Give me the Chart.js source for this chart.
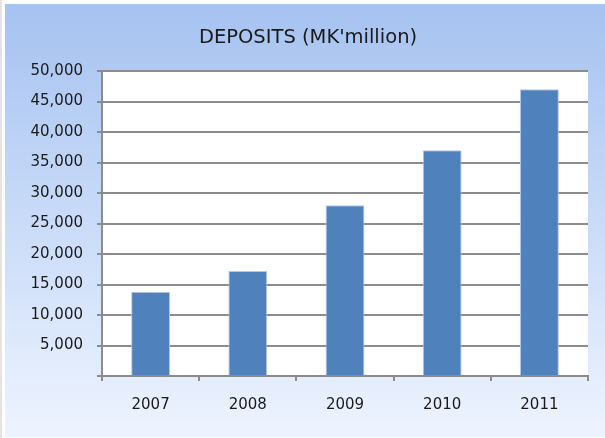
<!DOCTYPE html>
<html>
<head>
<meta charset="utf-8">
<script src="https://cdn.jsdelivr.net/npm/chart.js@4.4.1/dist/chart.umd.min.js"></script>
<style>
    body { margin: 0; background: #fff; }
    #wrap { width: 605px; height: 438px; position: relative; }
</style>
</head>
<body>
<div id="wrap"><canvas id="depositsChart"></canvas></div>
<script>
var years = ["2007", "2008", "2009", "2010", "2011"];
var deposits = [13800, 17200, 28000, 37000, 47000];
var yMax = 50000;
var yStep = 5000;

// light blue panel behind the chart, white plot area
var panelBackground = {
    id: 'panelBackground',
    beforeDraw: function (chart) {
        var ctx = chart.ctx;
        var w = chart.width, h = chart.height;
        ctx.save();
        ctx.fillStyle = '#ffffff';
        ctx.fillRect(0, 0, w, h);
        ctx.fillStyle = '#e4e4e4';
        ctx.fillRect(0, 0, 2, h);
        var grad = ctx.createLinearGradient(0, 4, 0, h);
        grad.addColorStop(0, '#a6c2f1');
        grad.addColorStop(0.5, '#c9dbf8');
        grad.addColorStop(1, '#eef4fe');
        ctx.fillStyle = grad;
        ctx.fillRect(5, 4, w - 5, h - 5);
        var a = chart.chartArea;
        ctx.fillStyle = '#ffffff';
        ctx.fillRect(a.left, a.top, a.right - a.left, a.bottom - a.top);
        ctx.restore();
    }
};

var tickFont = { family: "DejaVu Sans", size: 15 };

var chartElement = new Chart(document.getElementById('depositsChart'), {
    type: 'bar',
    data: {
        labels: years,
        datasets: [
            {
                label: 'Deposits',
                data: deposits,
                backgroundColor: '#4f81bd',
                borderColor: '#b3c8e6',
                borderWidth: 1,
                barPercentage: 0.4,
                categoryPercentage: 1.0
            }
        ]
    },
    options: {
        responsive: true,
        maintainAspectRatio: false,
        animation: false,
        layout: {
            padding: { top: 4, right: 17, bottom: 0, left: 28 }
        },
        plugins: {
            legend: { display: false },
            tooltip: { enabled: false },
            title: {
                display: true,
                text: "DEPOSITS (MK'million)",
                color: '#1a1a1a',
                font: { family: "DejaVu Sans", size: 19.5, weight: 'normal', lineHeight: 1.2 },
                padding: { top: 22, bottom: 21.6 }
            }
        },
        scales: {
            x: {
                offset: true,
                grid: {
                    drawOnChartArea: false,
                    drawTicks: true,
                    tickLength: 5,
                    color: '#8c8c8c',
                    lineWidth: 2,
                    offset: true
                },
                border: { color: '#8c8c8c', width: 2 },
                ticks: { color: '#1a1a1a', font: tickFont, padding: 15.5 },
                afterFit: function (scale) { scale.height = 62; }
            },
            y: {
                min: 0,
                max: yMax,
                grid: {
                    color: '#8c8c8c',
                    lineWidth: 2,
                    drawTicks: true,
                    tickLength: 5
                },
                border: { color: '#8c8c8c', width: 2 },
                ticks: {
                    stepSize: yStep,
                    color: '#1a1a1a',
                    font: tickFont,
                    padding: 14,
                    callback: function (v) {
                        return v === 0 ? '' : v.toLocaleString('en-US');
                    }
                },
                afterFit: function (scale) { scale.width = 74; }
            }
        }
    },
    plugins: [panelBackground]
});
</script>
</body>
</html>
